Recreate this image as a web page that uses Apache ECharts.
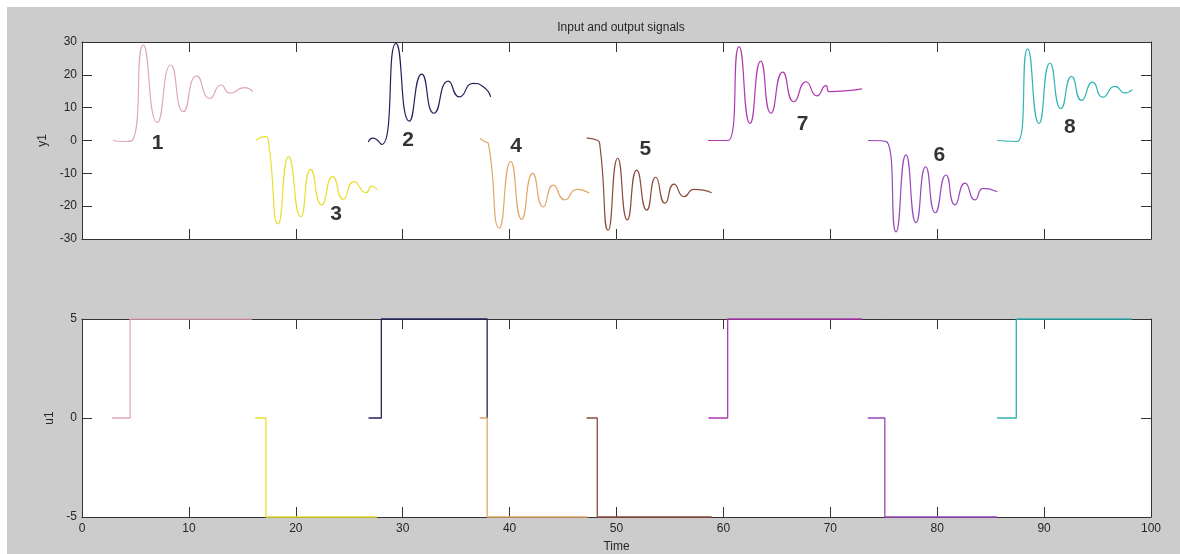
<!DOCTYPE html>
<html>
<head>
<meta charset="utf-8">
<script src="https://cdn.jsdelivr.net/npm/echarts@6/dist/echarts.min.js"></script>
<style>
html,body{margin:0;padding:0;background:#fff;}
#main{width:1180px;height:554px;}
</style>
</head>
<body>
<div id="main"></div>
<script>
// ---- Output signal y1 : eight experiments (time, value) ----
var y1_1_t = [2.9, 4.0, 4.7, 5.73, 7.04, 8.30, 9.48, 10.73, 11.97, 13.0, 13.84, 15.18, 15.97];
var y1_1_v = [0, -0.3, 0, 29.1, 5.5, 23.0, 8.8, 19.7, 12.8, 16.9, 14.4, 16.1, 14.9];

var y1_2_t = [26.78, 27.19, 28.04, 29.37, 30.62, 31.78, 32.93, 34.27, 35.30, 36.6, 37.54, 38.23];
var y1_2_v = [-0.5, 0.7, -1.2, 29.6, 5.9, 20.2, 8.3, 18.1, 13.3, 17.4, 16.4, 13.3];

var y1_3_t = [16.28, 17.12, 17.43, 18.36, 19.33, 20.46, 21.39, 22.42, 23.45, 24.44, 25.44, 26.57, 27.1, 27.62];
var y1_3_v = [0, 1.2, 0, -25.4, -4.9, -23.2, -8.8, -19.6, -11.0, -17.9, -12.5, -15.9, -13.9, -14.9];

var y1_4_t = [37.23, 37.7, 38.0, 39.04, 40.1, 41.13, 42.16, 43.15, 44.09, 45.18, 46.28, 47.46];
var y1_4_v = [0.7, -0.4, -0.9, -26.7, -6.4, -24.0, -10.0, -20.2, -13.6, -18.1, -14.9, -16.1];

var y1_5_t = [47.21, 48.15, 48.46, 49.23, 50.11, 51.01, 51.89, 52.83, 53.67, 54.54, 55.38, 56.32, 57.25, 58.9];
var y1_5_v = [0.7, 0.15, -1.9, -27.3, -5.4, -24.2, -9.0, -21.2, -11.2, -19.1, -13.3, -17.1, -14.9, -15.9];

var y1_6_t = [73.53, 75.27, 76.15, 77.08, 78.02, 78.92, 79.82, 80.82, 81.66, 82.6, 83.54, 84.31, 85.62];
var y1_6_v = [0, -0.4, -27.8, -4.4, -25.0, -8.0, -22.0, -10.5, -19.6, -13.0, -18.1, -14.6, -15.6];

var y1_7_t = [58.56, 60.43, 61.46, 62.49, 63.49, 64.45, 65.55, 66.6, 67.73, 68.73, 69.6, 69.88, 72.97];
var y1_7_v = [0, 0, 28.6, 5.2, 24.2, 8.3, 20.8, 11.8, 17.9, 13.6, 16.7, 14.9, 15.7];

var y1_8_t = [85.62, 87.49, 88.46, 89.52, 90.55, 91.58, 92.58, 93.51, 94.54, 95.48, 96.63, 97.57, 98.25];
var y1_8_v = [0, -0.3, 27.9, 5.2, 23.6, 9.7, 19.5, 12.2, 17.8, 13.2, 16.5, 14.5, 15.5];

// ---- Input signal u1 : step breakpoints ----
var u1_1_t = [2.8, 4.5, 4.5, 15.9];  var u1_1_v = [0, 0, 5, 5];
var u1_2_t = [26.8, 28.0, 28.0, 37.9, 37.9]; var u1_2_v = [0, 0, 5, 5, 0];
var u1_3_t = [16.2, 17.2, 17.2, 27.6]; var u1_3_v = [0, 0, -5, -5];
var u1_4_t = [37.2, 37.9, 37.9, 47.3]; var u1_4_v = [0, 0, -5, -5];
var u1_5_t = [47.2, 48.2, 48.2, 58.9]; var u1_5_v = [0, 0, -5, -5];
var u1_6_t = [73.5, 75.1, 75.1, 85.6]; var u1_6_v = [0, 0, -5, -5];
var u1_7_t = [58.6, 60.4, 60.4, 73.0]; var u1_7_v = [0, 0, 5, 5];
var u1_8_t = [85.6, 87.4, 87.4, 98.2]; var u1_8_v = [0, 0, 5, 5];

// ---- Experiment annotations ----
var labelText = ['1', '2', '3', '4', '5', '6', '7', '8'];
var labelT = [7.06, 30.5, 23.76, 40.6, 52.7, 80.2, 67.4, 92.4];
var labelV = [-0.75, 0.15, -22.4, -1.7, -2.6, -4.6, 4.9, 4.0];

// ---- Axis ticks ----
var timeMin = 0, timeMax = 100, timeStep = 10;
var y1Min = -30, y1Max = 30, y1Step = 10;
var u1Min = -5, u1Max = 5, u1Step = 5;

var colors = ['#e0a8bc', '#22225a', '#e8e030', '#e2a868', '#8a4a3c', '#9848b8', '#b038b0', '#30b4b4'];

function pairs(t, v) { return t.map(function (x, i) { return [x, v[i]]; }); }

var yT = [y1_1_t, y1_2_t, y1_3_t, y1_4_t, y1_5_t, y1_6_t, y1_7_t, y1_8_t];
var yV = [y1_1_v, y1_2_v, y1_3_v, y1_4_v, y1_5_v, y1_6_v, y1_7_v, y1_8_v];
var uT = [u1_1_t, u1_2_t, u1_3_t, u1_4_t, u1_5_t, u1_6_t, u1_7_t, u1_8_t];
var uV = [u1_1_v, u1_2_v, u1_3_v, u1_4_v, u1_5_v, u1_6_v, u1_7_v, u1_8_v];

var axisColor = '#333333';
var labelStyle = { color: '#262626', fontSize: 12, fontFamily: 'Liberation Sans, Arial, sans-serif' };

function xAx(grid, pos, showLabel, name) {
  return {
    type: 'value', gridIndex: grid, position: pos, min: timeMin, max: timeMax, interval: timeStep,
    axisLine: { show: true, onZero: false, lineStyle: { color: axisColor, width: 1 } },
    axisTick: { show: true, inside: true, length: 10, lineStyle: { color: axisColor } },
    axisLabel: Object.assign({ show: showLabel, margin: 6 }, labelStyle),
    splitLine: { show: false },
    name: name || '', nameLocation: 'middle', nameGap: 24,
    nameTextStyle: labelStyle
  };
}
function yAx(grid, pos, mn, mx, step, showLabel, name, gap) {
  return {
    type: 'value', gridIndex: grid, position: pos, min: mn, max: mx, interval: step,
    axisLine: { show: true, onZero: false, lineStyle: { color: axisColor, width: 1 } },
    axisTick: { show: true, inside: true, length: 10, lineStyle: { color: axisColor } },
    axisLabel: Object.assign({ show: showLabel, margin: 5 }, labelStyle),
    splitLine: { show: false },
    name: name || '', nameLocation: 'middle', nameGap: gap || 30, nameRotate: 90,
    nameTextStyle: labelStyle
  };
}

var series = [];
for (var i = 0; i < 8; i++) {
  series.push({
    type: 'line', xAxisIndex: 0, yAxisIndex: 0, data: pairs(yT[i], yV[i]),
    smooth: 0.6, showSymbol: false, symbol: 'none', clip: false,
    lineStyle: { color: colors[i], width: 1.2 }, z: 3
  });
  series.push({
    type: 'line', xAxisIndex: 2, yAxisIndex: 2, data: pairs(uT[i], uV[i]),
    showSymbol: false, symbol: 'none', clip: false,
    lineStyle: { color: colors[i], width: 1.3 }, z: 3
  });
}
series.push({
  type: 'scatter', xAxisIndex: 0, yAxisIndex: 0, symbolSize: 0,
  data: labelText.map(function (s, i) { return { name: s, value: [labelT[i], labelV[i]] }; }),
  label: { show: true, position: 'inside', formatter: '{b}', color: '#000', fontSize: 21, fontWeight: 'bold',
    fontFamily: 'Liberation Sans, Arial, sans-serif' },
  z: 5, silent: true
});

var option = {
  animation: false,
  backgroundColor: '#cccccc',
  title: {
    text: 'Input and output signals', left: 616, top: 17, textAlign: 'center',
    textStyle: { color: '#262626', fontSize: 12, fontWeight: 'normal', fontFamily: 'Liberation Sans, Arial, sans-serif' }
  },
  graphic: [
    { type: 'rect', shape: { x: 0, y: 0, width: 1180, height: 7 }, style: { fill: '#ffffff' }, silent: true },
    { type: 'rect', shape: { x: 0, y: 0, width: 7, height: 554 }, style: { fill: '#ffffff' }, silent: true }
  ],
  grid: [
    { left: 82, right: 29, top: 42, height: 197, show: true, backgroundColor: '#ffffff', borderWidth: 0 },
    { left: 82, right: 29, top: 319, height: 198, show: true, backgroundColor: '#ffffff', borderWidth: 0 }
  ],
  xAxis: [
    xAx(0, 'bottom', false),
    xAx(0, 'top', false),
    xAx(1, 'bottom', true, 'Time'),
    xAx(1, 'top', false)
  ],
  yAxis: [
    yAx(0, 'left', y1Min, y1Max, y1Step, true, 'y1', 33),
    yAx(0, 'right', y1Min, y1Max, y1Step, false),
    yAx(1, 'left', u1Min, u1Max, u1Step, true, 'u1', 25),
    yAx(1, 'right', u1Min, u1Max, u1Step, false)
  ],
  series: series
};

var chart = echarts.init(document.getElementById('main'), null, { renderer: 'canvas' });
chart.setOption(option);
</script>
</body>
</html>
